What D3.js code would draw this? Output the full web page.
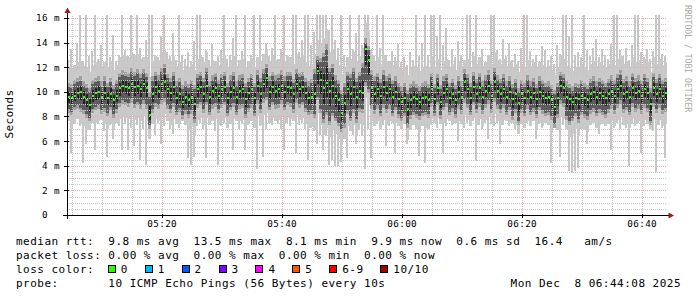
<!DOCTYPE html>
<html><head><meta charset="utf-8">
<script src="https://cdn.jsdelivr.net/npm/d3@7"></script>
<style>
html,body{margin:0;padding:0;background:#fff;}
svg{display:block;}
text{font-family:"DejaVu Sans Mono",monospace;white-space:pre;}
</style></head><body><svg id="c" width="697" height="297"></svg>
<script>
// ---- data (ms), one sample per 30 s ----
const startTime = "2025-12-08T05:04:08";
const endTime   = "2025-12-08T06:44:08";
const stepSeconds = 30;

const hi = [
12.6,13.5,12.2,14.0,16.2,12.5,16.2,12.9,13.3,16.2,
12.7,13.8,12.4,16.2,12.8,14.6,12.5,13.0,16.2,13.4,
12.9,16.2,13.1,16.2,13.6,12.8,14.2,16.2,16.2,13.0,
12.8,14.5,16.2,13.2,12.9,14.8,12.6,16.2,13.0,12.7,
13.2,12.5,14.1,16.2,16.2,12.8,13.4,12.6,13.9,12.5,
12.9,13.4,16.2,12.7,13.0,14.4,16.2,12.6,13.3,16.2,
12.5,13.0,16.2,12.8,16.2,13.1,14.0,12.9,13.6,16.2,
12.7,13.5,16.2,13.0,12.8,16.2,16.2,13.2,14.2,16.2,
16.2,13.8,14.9,16.2,16.2,16.2,16.2,15.0,16.2,14.2,
13.6,16.2,13.0,12.8,16.2,13.5,14.8,16.2,13.8,16.2,
16.2,13.4,12.9,16.2,13.6,16.2,13.0,12.5,13.3,12.8,
13.9,12.4,12.8,12.2,13.2,12.6,16.2,12.9,14.0,16.2,
13.0,16.2,16.2,14.5,16.2,13.8,15.2,12.6,13.5,12.8,
14.1,13.0,12.6,16.2,16.2,13.2,16.2,12.8,13.5,12.4,
13.0,16.2,16.2,13.4,12.7,14.3,12.9,14.0,12.6,13.1,
12.5,13.6,16.2,16.2,13.3,12.7,13.0,12.4,13.7,13.4,
12.6,12.9,12.3,13.8,13.1,16.2,16.2,14.5,16.2,13.0,
13.2,12.8,16.2,13.4,12.9,13.6,14.3,12.8,13.5,13.0,
12.7,13.9,16.2,16.2,13.4,12.9,13.6,12.6,13.8,16.2,
16.2,13.2,12.8,13.5,12.7,13.3,16.2,16.2,13.1,12.9];

const q3 = [
10.4,10.3,10.6,10.8,10.9,10.5,10.3,10.0,10.6,10.8,
10.9,10.5,10.9,10.4,10.8,10.2,10.6,11.2,11.4,11.3,
11.2,11.6,11.3,11.5,11.1,11.5,11.2,9.6,10.9,11.3,
11.0,11.6,11.9,11.1,10.8,11.3,10.5,10.8,10.2,10.5,
10.3,10.6,10.2,11.1,11.3,10.8,11.6,10.5,11.0,11.2,
10.6,11.1,11.3,10.4,11.0,11.3,10.5,11.0,11.1,10.4,
10.8,11.1,10.4,11.4,10.8,11.5,11.9,10.9,11.3,11.0,
11.1,11.4,10.9,11.3,11.3,10.7,11.5,11.2,11.3,10.8,
10.5,10.7,11.5,12.6,12.4,12.8,13.5,11.6,11.9,11.0,
10.6,9.8,10.4,11.3,11.1,11.6,10.8,11.3,12.0,14.0,
13.4,11.4,10.9,11.2,10.7,11.4,10.9,11.1,10.6,10.9,
10.4,10.1,10.4,9.8,10.3,10.5,10.3,10.1,10.4,10.5,
10.3,11.2,10.3,11.1,10.2,10.9,11.1,10.4,10.7,10.2,
10.9,10.5,11.5,11.1,10.4,11.3,10.7,11.2,10.5,11.0,
11.4,10.6,11.6,11.0,10.7,11.1,10.5,10.9,10.3,10.7,
10.0,10.6,10.4,11.0,10.5,10.8,10.3,10.9,10.6,10.4,
10.5,10.2,9.8,10.4,11.3,11.1,10.5,10.3,10.1,10.4,
10.3,10.6,10.4,10.2,10.7,10.9,10.5,10.8,10.6,10.4,
10.7,11.0,10.6,11.1,11.4,10.7,10.9,10.5,11.2,10.8,
11.0,10.6,11.1,10.8,10.0,11.2,10.7,11.1,10.6,10.8];

const med = [
9.6,9.5,9.7,9.9,10.0,9.6,9.3,8.9,9.7,9.9,
10.0,9.6,9.9,9.5,9.8,9.3,9.7,10.3,10.5,10.4,
10.3,10.6,10.4,10.5,10.2,10.6,10.3,8.1,9.8,10.4,
10.1,10.6,10.8,10.2,9.9,10.4,9.5,9.8,9.2,9.6,
9.3,9.6,9.0,10.2,10.4,9.8,10.5,9.6,10.1,10.3,
9.7,10.2,10.4,9.5,10.0,10.3,9.6,10.1,10.2,9.4,
9.9,10.2,9.5,10.5,9.8,10.6,11.1,10.0,10.4,10.1,
10.2,10.5,10.0,10.4,10.3,9.8,10.6,10.2,10.4,9.9,
9.5,9.6,9.8,11.7,11.0,10.3,10.7,10.1,10.5,9.7,
9.3,8.3,9.1,10.2,9.8,10.4,9.6,10.1,9.9,13.5,
12.6,10.3,9.8,10.2,9.7,10.4,9.9,10.2,9.6,10.0,
9.4,9.2,9.5,8.6,9.3,9.6,9.4,9.2,9.5,9.6,
9.3,10.2,9.4,10.3,9.2,9.9,10.2,9.5,9.8,9.3,
10.0,9.6,10.8,10.2,9.5,10.4,9.8,10.3,9.6,10.1,
10.5,9.7,10.8,10.1,9.8,10.2,9.6,10.0,9.4,9.8,
9.1,9.8,9.5,10.1,9.6,9.9,9.4,10.0,9.7,9.5,
9.6,9.3,8.8,9.5,10.5,10.3,9.6,9.4,9.2,9.5,
9.4,9.7,9.5,9.3,9.8,10.0,9.6,9.9,9.7,9.5,
9.8,10.1,9.7,10.2,10.5,9.8,10.0,9.6,10.3,9.9,
10.1,9.7,10.2,9.9,9.0,10.3,9.8,10.2,9.7,9.9];

const q1 = [
8.6,8.4,8.8,8.9,8.7,8.5,8.2,7.9,8.6,8.8,
8.9,8.5,8.7,8.3,8.8,8.2,8.6,9.1,9.3,9.2,
9.1,9.4,9.0,9.2,8.9,9.3,8.9,7.3,8.6,9.1,
8.9,9.3,9.5,8.9,8.6,9.1,8.4,8.7,8.1,8.5,
8.2,8.5,7.8,9.0,9.2,8.6,9.2,8.4,8.9,9.1,
8.6,9.0,9.2,8.3,8.8,9.1,8.4,8.9,9.0,8.2,
8.7,9.0,8.3,9.3,8.6,9.4,9.6,8.8,9.2,8.9,
9.0,9.3,8.8,9.2,9.1,8.6,9.4,9.0,9.2,8.7,
8.4,8.5,8.2,9.6,8.6,7.8,8.4,7.6,8.3,7.9,
7.5,7.0,7.4,8.5,7.9,8.6,7.8,8.7,8.6,10.8,
10.2,8.9,8.5,8.9,8.3,9.0,8.6,8.9,8.3,8.8,
8.2,7.9,8.3,7.4,8.1,8.4,8.2,8.0,8.3,8.4,
8.2,9.1,8.3,9.2,8.1,8.8,9.1,8.4,8.7,8.2,
8.9,8.5,9.4,9.0,8.4,9.2,8.6,9.1,8.5,9.0,
9.3,8.6,9.5,8.9,8.6,9.0,8.4,8.8,8.0,8.6,
7.6,8.6,8.3,8.9,8.4,8.7,8.2,8.8,8.5,8.3,
8.4,8.0,7.4,8.2,9.3,9.1,8.0,7.6,7.9,8.3,
7.8,8.4,8.2,8.0,8.5,8.7,8.3,8.6,8.4,8.2,
8.6,8.9,8.5,9.0,9.3,8.6,8.8,8.4,9.1,8.7,
8.9,8.5,9.0,8.7,7.6,9.1,8.6,9.0,8.5,8.7];

const lo = [
7.6,5.0,7.4,7.8,7.2,4.2,5.8,6.9,7.5,5.3,
7.4,7.7,6.8,4.7,7.3,6.2,7.5,7.2,5.3,7.4,
5.3,7.1,5.6,7.3,4.5,7.0,4.1,6.2,7.4,6.5,
7.5,5.8,7.2,7.6,7.0,6.6,7.4,7.1,7.6,7.3,
4.6,4.1,4.7,7.2,7.5,7.0,4.6,7.3,7.6,6.8,
4.1,7.2,7.5,7.1,7.4,5.3,7.6,7.0,7.4,5.3,
7.3,7.6,7.1,3.7,7.2,4.7,7.0,7.5,7.3,7.6,
7.4,7.0,5.3,7.5,7.2,7.6,5.0,7.3,7.5,7.0,
4.5,7.1,6.8,5.8,6.5,5.3,6.4,4.1,4.5,4.0,
4.0,4.3,6.2,4.6,6.8,6.5,5.8,6.9,6.4,3.7,
7.0,4.6,7.2,7.4,7.0,7.3,5.6,7.2,7.5,5.0,
7.2,7.0,7.4,5.8,6.9,7.3,7.0,4.8,7.2,4.2,
7.0,7.3,7.5,7.1,7.4,5.0,7.2,7.6,7.3,7.5,
6.0,7.4,7.1,7.5,7.2,7.6,4.4,7.3,7.0,7.5,
6.2,7.4,7.2,7.5,5.8,7.3,7.6,7.2,7.5,7.0,
6.6,7.4,7.1,7.5,7.2,7.6,6.2,7.4,7.1,7.5,
7.3,4.2,7.1,6.9,4.7,7.3,7.0,3.6,3.4,3.6,
3.8,7.0,6.9,5.8,7.3,7.5,7.1,6.6,7.4,7.2,
7.4,5.3,7.1,7.5,7.0,7.3,7.1,4.0,7.4,7.2,
7.5,5.0,7.2,7.4,7.0,6.8,3.5,7.3,7.1,4.6];

const yTicks = [0, 2, 4, 6, 8, 10, 12, 14, 16];
const xTickTimes = ["2025-12-08T05:20:00","2025-12-08T05:40:00","2025-12-08T06:00:00","2025-12-08T06:20:00","2025-12-08T06:40:00"];
const xTickLabels = ["05:20","05:40","06:00","06:20","06:40"];

const legendRows = [
  "median rtt:  9.8 ms avg  13.5 ms max  8.1 ms min  9.9 ms now  0.6 ms sd  16.4   am/s",
  "packet loss: 0.00 % avg  0.00 % max  0.00 % min  0.00 % now",
  "loss color:",
  "probe:       10 ICMP Echo Pings (56 Bytes) every 10s"
];
const lossLabels = ["0","1","2","3","4","5","6-9","10/10"];
const lossColors = ["#26ff00","#00b8ff","#0059ff","#7e00ff","#ff00ff","#ff5500","#ff0000","#a10000"];
const dateText = "Mon Dec  8 06:44:08 2025";
const yTitle = "Seconds";
const credit = "RRDTOOL / TOBI OETIKER";

// ---- drawing ----
const svg = d3.select("#c");
svg.append("rect").attr("width",697).attr("height",297).attr("fill","#fff");

const X0 = 67, X1 = 667, Y0 = 215, Y1 = 15;
const t0 = new Date(startTime), t1 = new Date(endTime);
const x = d3.scaleTime().domain([t0, t1]).range([X0, X1]);
const y = d3.scaleLinear().domain([0, 16.24]).range([Y0, Y1]);

const sampleTime = i => new Date(t0.getTime() + i * stepSeconds * 1000);
const idx = d3.range(med.length);

const plot = svg.append("g").attr("shape-rendering","crispEdges");
const colX = i => Math.round(x(sampleTime(i)));
const colW = i => Math.round(x(sampleTime(i+1))) - Math.round(x(sampleTime(i)));
// band(top, bottom, colour, x-offset inside column, width (null = full column))
function band(top, bot, color, off, w){
  plot.append("g").selectAll("rect").data(idx).join("rect")
    .attr("x", i => colX(i) + off).attr("width", i => w == null ? colW(i) : w)
    .attr("y", i => Math.max(Y1, y(top(i))))
    .attr("height", i => Math.max(1, y(bot(i)) - Math.max(Y1, y(top(i)))))
    .attr("fill", color);
}
// outer smoke: needles from lowest to highest ping
band(i => hi[i], i => lo[i], "#c6c6c6", 0, 2);
band(i => Math.min(hi[i], q3[i] + 1.6), i => Math.max(lo[i], q1[i] - 1.3), "#cacaca", 1, 2);
band(i => Math.min(hi[i], q3[i] + 0.9), i => Math.max(lo[i], q1[i] - 0.8), "#cacaca", 0, null);
band(i => q3[i] + 0.35, i => q1[i] - 0.3, "#a0a0a0", 0, null);
band(i => q3[i], i => q1[i], "#5c5c5c", 0, null);
band(i => (q3[i] + med[i]) / 2, i => (q1[i] + med[i]) / 2, "#242424", 1, 2);
plot.append("g").selectAll("rect").data(idx).join("rect")
  .attr("x", i => colX(i) + 1).attr("width", 2)
  .attr("y", i => Math.round(y(med[i])) - 1).attr("height", 2)
  .attr("fill", lossColors[0]);

// grid (drawn over the data, as rrdtool does)
const grid = svg.append("g").attr("shape-rendering","crispEdges").attr("fill","none");
const minorY = d3.range(0.5, 16.25, 0.5).filter(v => Math.abs(v % 2) > 1e-9);
grid.selectAll(".hm").data(minorY).join("line")
  .attr("x1", X0).attr("x2", X1)
  .attr("y1", v => Math.round(y(v)) + 0.5).attr("y2", v => Math.round(y(v)) + 0.5)
  .attr("stroke", "#c8c8c8").attr("stroke-dasharray", "1,1");
const minorX = d3.timeMinute.every(5).range(t0, t1);
grid.selectAll(".vm").data(minorX).join("line")
  .attr("x1", d => Math.round(x(d)) + 0.5).attr("x2", d => Math.round(x(d)) + 0.5)
  .attr("y1", Y0).attr("y2", Y1)
  .attr("stroke", "#c8c8c8").attr("stroke-dasharray", "1,1");
grid.selectAll(".hM").data(yTicks.filter(v => v > 0)).join("line")
  .attr("x1", X0).attr("x2", X1)
  .attr("y1", v => Math.round(y(v)) + 0.5).attr("y2", v => Math.round(y(v)) + 0.5)
  .attr("stroke", "#eab0b0").attr("stroke-dasharray", "1,1");
const xTicks = xTickTimes.map(s => new Date(s));
grid.selectAll(".vM").data(xTicks).join("line")
  .attr("x1", d => Math.round(x(d)) + 0.5).attr("x2", d => Math.round(x(d)) + 0.5)
  .attr("y1", Y0).attr("y2", Y1)
  .attr("stroke", "#eab0b0").attr("stroke-dasharray", "1,1");

// axes
const ax = svg.append("g").attr("shape-rendering","crispEdges");
ax.append("line").attr("x1", 63).attr("x2", 669).attr("y1", Y0 + 0.5).attr("y2", Y0 + 0.5).attr("stroke", "#000");
ax.append("line").attr("x1", X0 + 0.5).attr("x2", X0 + 0.5).attr("y1", 219).attr("y2", 12).attr("stroke", "#000");
ax.selectAll(".xt").data(xTicks).join("line")
  .attr("x1", d => Math.round(x(d)) + 0.5).attr("x2", d => Math.round(x(d)) + 0.5)
  .attr("y1", Y0 - 1).attr("y2", Y0 + 3).attr("stroke", "#000");
ax.selectAll(".yt").data(yTicks).join("line")
  .attr("x1", X0 - 3).attr("x2", X0 + 2)
  .attr("y1", v => Math.round(y(v)) + 0.5).attr("y2", v => Math.round(y(v)) + 0.5).attr("stroke", "#000");
svg.append("path").attr("d", "M67.5,7.5 L64.5,13 L70.5,13 Z").attr("fill", "#9a1a1a");
svg.append("path").attr("d", "M674,215.5 L668.5,212.5 L668.5,218.5 Z").attr("fill", "#9a1a1a");

// axis labels
const axisFont = "9.3px";
svg.selectAll(".yl").data(yTicks).join("text")
  .attr("x", 48).attr("y", v => y(v) + 3.4).attr("text-anchor", "end")
  .attr("font-size", axisFont).attr("letter-spacing", "0.35px").attr("fill", "#000")
  .text(v => String(v));
svg.selectAll(".ym").data(yTicks.filter(v => v > 0)).join("text")
  .attr("x", 54).attr("y", v => y(v) + 3.4)
  .attr("font-size", axisFont).attr("fill", "#000").text("m");
svg.selectAll(".xl").data(xTicks).join("text")
  .attr("x", d => x(d)).attr("y", 227).attr("text-anchor", "middle")
  .attr("font-size", axisFont).attr("letter-spacing", "0.35px").attr("fill", "#000")
  .text((d, i) => xTickLabels[i]);

svg.append("text").attr("transform", "translate(13,114) rotate(-90)")
  .attr("text-anchor", "middle").attr("font-size", "11px").attr("letter-spacing", "0.4px")
  .attr("fill", "#000").text(yTitle);
svg.append("text").attr("transform", "translate(685,5) rotate(90)")
  .attr("font-size", "8.1px").attr("fill", "#aaaaaa").text(credit);

// legend
const lf = "11px", ls = "0.48px", cw = 7.1, lx = 16;
const rowY = [244.5, 258.6, 272.7, 286.8];
legendRows.forEach((s, r) => {
  svg.append("text").attr("x", lx).attr("y", rowY[r]).attr("font-size", lf)
    .attr("letter-spacing", ls).attr("fill", "#000").text(s);
});
let bx = lx + 13 * cw - 0.5;
lossLabels.forEach((lab, k) => {
  svg.append("rect").attr("x", bx + 0.5).attr("y", 265.5).attr("width", 7).attr("height", 7)
    .attr("fill", lossColors[k]).attr("stroke", "#000").attr("shape-rendering", "crispEdges");
  svg.append("text").attr("x", bx + 13).attr("y", rowY[2]).attr("font-size", lf)
    .attr("letter-spacing", ls).attr("fill", "#000").text(lab);
  bx += 8 + 5 + lab.length * cw + 16.8;
});
svg.append("text").attr("x", 681).attr("y", rowY[3]).attr("text-anchor", "end")
  .attr("font-size", lf).attr("letter-spacing", ls).attr("fill", "#000").text(dateText);
</script></body></html>
